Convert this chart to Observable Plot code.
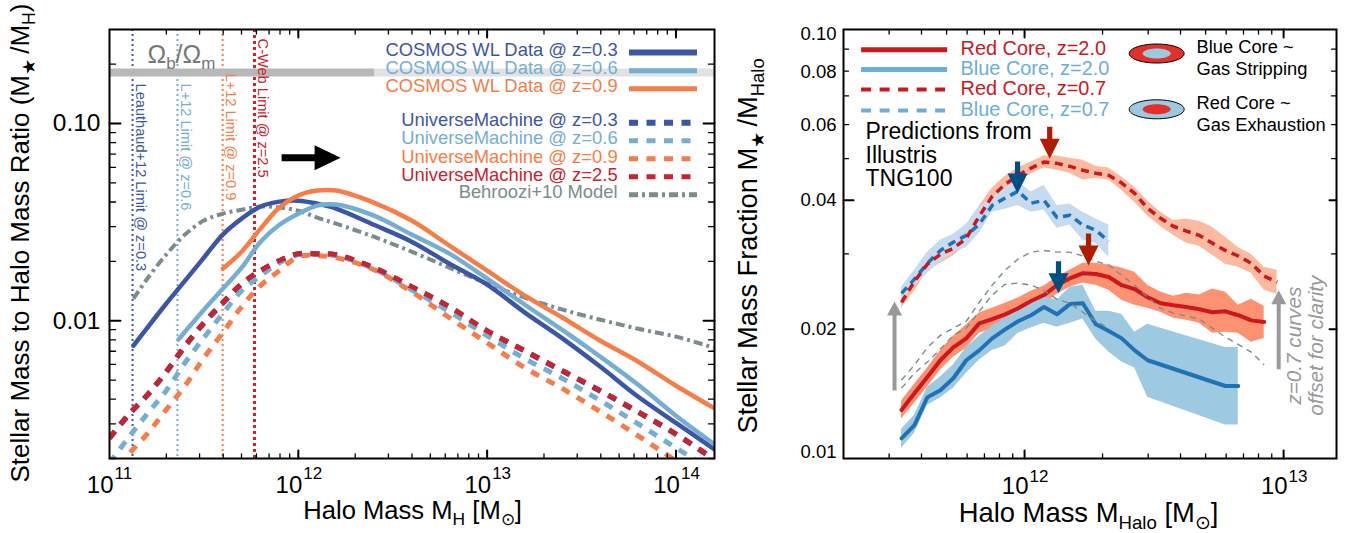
<!DOCTYPE html>
<html><head><meta charset="utf-8">
<style>html,body{margin:0;padding:0;background:#fff}#row{display:flex;width:1350px;height:533px}svg{flex:none;max-width:none!important}</style>
<script src="https://cdn.jsdelivr.net/npm/d3@7"></script>
<script src="https://cdn.jsdelivr.net/npm/@observablehq/plot@0.6"></script>
</head><body><div id="row"></div>
<script>
// ---------- LEFT PANEL DATA (log10 halo mass, log10 ratio) ----------
const gridL = [11,11.1,11.2,11.3,11.4,11.5,11.6,11.7,11.8,11.9,12,12.1,12.2,12.4,12.6,12.8,13,13.2,13.4,13.6,13.8,14,14.2];
const um25 = [-2.594,-2.477,-2.376,-2.259,-2.127,-2.010,-1.909,-1.812,-1.746,-1.695,-1.660,-1.660,-1.665,-1.731,-1.827,-1.929,-2.051,-2.152,-2.254,-2.355,-2.462,-2.574,-2.701];
const um03 = [-2.596,-2.479,-2.378,-2.261,-2.129,-2.012,-1.911,-1.814,-1.748,-1.697,-1.662,-1.662,-1.667,-1.733,-1.829,-1.931,-2.053,-2.154,-2.256,-2.357,-2.464,-2.576,-2.703];
const um06 = [-2.721,-2.594,-2.472,-2.355,-2.213,-2.086,-1.964,-1.848,-1.772,-1.706,-1.665,-1.660,-1.670,-1.736,-1.843,-1.954,-2.076,-2.193,-2.294,-2.406,-2.523,-2.645,-2.761];
const um09 = [-2.812,-2.680,-2.574,-2.452,-2.330,-2.188,-2.061,-1.929,-1.822,-1.746,-1.675,-1.670,-1.680,-1.741,-1.853,-1.985,-2.112,-2.239,-2.345,-2.462,-2.584,-2.711,-2.838];
const wlX03 = [11.127,11.2,11.3,11.4,11.5,11.6,11.7,11.8,11.9,12,12.1,12.2,12.4,12.6,12.8,13,13.2,13.4,13.6,13.8,14,14.2];
const wl03 = [-2.127,-2.036,-1.914,-1.797,-1.680,-1.563,-1.482,-1.421,-1.396,-1.391,-1.406,-1.431,-1.513,-1.599,-1.711,-1.817,-1.959,-2.091,-2.234,-2.386,-2.518,-2.650];
const wlX06 = [11.365,11.4,11.5,11.6,11.7,11.8,11.9,12,12.1,12.2,12.4,12.6,12.8,13,13.2,13.4,13.6,13.8,14,14.2];
const wl06 = [-2.096,-2.056,-1.944,-1.838,-1.731,-1.599,-1.513,-1.457,-1.416,-1.411,-1.467,-1.563,-1.660,-1.787,-1.919,-2.048,-2.183,-2.325,-2.482,-2.624];
const wlX09 = [11.6,11.7,11.8,11.9,12,12.1,12.2,12.4,12.6,12.8,13,13.2,13.4,13.6,13.8,14,14.2];
const wl09 = [-1.736,-1.650,-1.533,-1.426,-1.365,-1.340,-1.340,-1.401,-1.492,-1.619,-1.746,-1.873,-1.985,-2.102,-2.208,-2.330,-2.442];
const behrX = [11.127,11.2,11.3,11.4,11.5,11.6,11.7,11.8,11.9,12,12.1,12.2,12.4,12.6,12.8,13,13.2,13.4,13.6,13.8,14,14.2];
const behr = [-1.888,-1.787,-1.665,-1.563,-1.492,-1.457,-1.437,-1.421,-1.426,-1.442,-1.477,-1.508,-1.574,-1.650,-1.731,-1.812,-1.883,-1.944,-1.995,-2.041,-2.081,-2.137];
const limitX = [11.122,11.360,11.599,11.768];
const limitLabels = ["Leauthaud+12 Limit @ z=0.3","L+12 Limit @ z=0.6","L+12 Limit @ z=0.9","C-Web Limit @ z=2.5"];
const limitTop = [-0.797,-0.797,-0.746,-0.569];
const baryon = 0.1815, baryonSplit = 12.406;
const legendL = ["COSMOS WL Data @ z=0.3","COSMOS WL Data @ z=0.6","COSMOS WL Data @ z=0.9","UniverseMachine @ z=0.3","UniverseMachine @ z=0.6","UniverseMachine @ z=0.9","UniverseMachine @ z=2.5","Behroozi+10 Model"];
const legendLY = [-0.629,-0.721,-0.812,-0.985,-1.076,-1.168,-1.259,-1.350];
const C = {navy:"#3c56a6",sky:"#74aed3",orange:"#f67d47",red:"#c8232e",slate:"#7a8c8c"};
const legendLColor = [C.navy,C.sky,C.orange,C.navy,C.sky,C.orange,C.red,C.slate];

// ---------- RIGHT PANEL DATA (log10 halo mass, log10 fraction) ----------
const gridR = [11.525,11.575,11.625,11.675,11.725,11.775,11.825,11.875,11.925,11.975,12.025,12.075,12.125,12.175,12.225,12.275,12.325,12.375,12.425,12.475,12.525,12.575,12.625,12.675,12.725,12.775,12.825,12.875,12.925,12.975];
const red20 = [-1.887,-1.848,-1.810,-1.771,-1.741,-1.720,-1.685,-1.675,-1.664,-1.650,-1.633,-1.619,-1.596,-1.580,-1.568,-1.570,-1.577,-1.596,-1.605,-1.624,-1.638,-1.643,-1.647,-1.652,-1.659,-1.657,-1.666,-1.678,-1.682];
const red20hi = [-1.866,-1.827,-1.789,-1.748,-1.715,-1.689,-1.661,-1.650,-1.638,-1.626,-1.610,-1.598,-1.577,-1.561,-1.545,-1.545,-1.549,-1.556,-1.566,-1.596,-1.612,-1.622,-1.615,-1.619,-1.605,-1.612,-1.643,-1.629,-1.645];
const red20lo = [-1.908,-1.871,-1.834,-1.794,-1.764,-1.743,-1.708,-1.699,-1.685,-1.671,-1.654,-1.640,-1.617,-1.601,-1.591,-1.596,-1.608,-1.631,-1.643,-1.650,-1.659,-1.673,-1.678,-1.685,-1.708,-1.706,-1.708,-1.729,-1.720];
const blueX20 = [...gridR.slice(0,20),12.775,12.825];
const blue20 = [-1.953,-1.922,-1.857,-1.841,-1.813,-1.771,-1.748,-1.720,-1.699,-1.680,-1.666,-1.647,-1.664,-1.640,-1.638,-1.687,-1.703,-1.720,-1.748,-1.771,-1.831,-1.831];
const blue20hi = [-1.932,-1.899,-1.834,-1.810,-1.782,-1.741,-1.715,-1.692,-1.673,-1.657,-1.640,-1.622,-1.631,-1.601,-1.596,-1.657,-1.657,-1.664,-1.706,-1.687,-1.741,-1.741];
const blue20lo = [-1.976,-1.941,-1.876,-1.859,-1.836,-1.801,-1.771,-1.748,-1.738,-1.708,-1.696,-1.685,-1.694,-1.685,-1.675,-1.722,-1.752,-1.775,-1.789,-1.857,-1.922,-1.922];
const red07 = [-1.636,-1.587,-1.547,-1.524,-1.510,-1.487,-1.435,-1.389,-1.361,-1.340,-1.323,-1.309,-1.312,-1.319,-1.328,-1.335,-1.340,-1.358,-1.382,-1.417,-1.440,-1.459,-1.470,-1.480,-1.498,-1.515,-1.528,-1.545,-1.575,-1.589];
const red07hi = [-1.624,-1.575,-1.524,-1.496,-1.480,-1.456,-1.412,-1.370,-1.342,-1.323,-1.309,-1.295,-1.295,-1.300,-1.305,-1.319,-1.323,-1.344,-1.368,-1.400,-1.426,-1.445,-1.442,-1.447,-1.461,-1.484,-1.508,-1.524,-1.554,-1.561];
const red07lo = [-1.650,-1.610,-1.563,-1.545,-1.528,-1.503,-1.456,-1.405,-1.377,-1.356,-1.337,-1.323,-1.328,-1.335,-1.351,-1.347,-1.351,-1.375,-1.403,-1.435,-1.459,-1.480,-1.498,-1.505,-1.526,-1.547,-1.554,-1.568,-1.608,-1.617];
const blue07 = [-1.615,-1.582,-1.545,-1.515,-1.496,-1.480,-1.454,-1.410,-1.393,-1.377,-1.405,-1.398,-1.438,-1.433,-1.456,-1.468,-1.494];
const blue07hi = [-1.601,-1.561,-1.519,-1.491,-1.477,-1.454,-1.414,-1.393,-1.368,-1.354,-1.379,-1.363,-1.410,-1.407,-1.426,-1.442,-1.456];
const blue07lo = [-1.631,-1.598,-1.568,-1.542,-1.521,-1.508,-1.475,-1.426,-1.419,-1.410,-1.426,-1.421,-1.463,-1.456,-1.491,-1.498,-1.531];
const raw07red = [-1.817,-1.782,-1.741,-1.713,-1.696,-1.680,-1.636,-1.596,-1.561,-1.535,-1.519,-1.515,-1.519,-1.519,-1.528,-1.540,-1.549,-1.573,-1.596,-1.624,-1.650,-1.661,-1.668,-1.675,-1.696,-1.717,-1.734,-1.752,-1.782];
const raw07blue = [-1.836,-1.801,-1.775,-1.745,-1.713,-1.696,-1.657,-1.619,-1.594,-1.591,-1.596,-1.608,-1.629,-1.638,-1.659,-1.680,-1.696];
const legendR = ["Red Core, z=2.0","Blue Core, z=2.0","Red Core, z=0.7","Blue Core, z=0.7"];
const legendRY = [-1.047,-1.093,-1.140,-1.189];
const CR = {red:"#cb181d",sky:"#6baed6",blue:"#2171b5",band1:"#fc9272",band2:"#9ecae1",band3:"#fcbba1",band4:"#c6dbef",darkRed:"#b01c00",darkBlue:"#004f84",grey:"#999999"};
const predLines = ["Predictions from","Illustris","TNG100"];
const predY = [-1.238,-1.294,-1.347];
const coreNotes = ["Blue Core ~","Gas Stripping","Red Core ~","Gas Exhaustion"];
const coreNoteY = [-1.042,-1.093,-1.172,-1.224];
const coreY = [-1.056,-1.186];
const peakArrows = [
  {x:12.097,y:-1.301,c:CR.darkRed},{x:11.973,y:-1.382,c:CR.darkBlue},
  {x:12.247,y:-1.550,c:CR.darkRed},{x:12.131,y:-1.615,c:CR.darkBlue}];

// ---------- HELPERS ----------
const FONT = "'Liberation Sans',Arial,Helvetica,sans-serif";
const rows = (xs,ys) => ys.map((y,i)=>({x:10**xs[i],y:10**y}));
const band = (xs,hi,lo) => hi.map((h,i)=>({x:10**xs[i],y1:10**h,y2:10**lo[i]}));
const tickShape = {draw(ctx,l){ctx.moveTo(0,0);ctx.lineTo(0,-l);}};
function ticks(axis,anchor,values,length,strokeWidth){
  const rotate = {bottom:0,top:180,left:90,right:-90}[anchor];
  return Plot.vector(values,{[axis]:d=>d,frameAnchor:anchor,shape:tickShape,length,anchor:"start",rotate,stroke:"#000",strokeWidth});
}
function richRender(i,s,v,d,c,next){
  const g = next(i,s,v,d,c);
  d3.select(g).selectAll("text").each(function(){
    const t = d3.select(this), src = t.text(), fs = parseFloat(g.getAttribute("font-size")) || 20;
    const parts = src.split(/(_\{[^}]*\})/).filter(Boolean);
    t.text(null);
    let down = false;
    parts.forEach(p=>{
      const sub = p.startsWith("_{");
      const ts = t.append("tspan").text(sub?p.slice(2,-1):p);
      if(sub){ts.attr("font-size",fs*0.68).attr("dy",fs*0.26);down=true;}
      else if(down){ts.attr("dy",-fs*0.26);down=false;}
    });
  });
  return g;
}
function arrowSym(len,halfShaft,headLen,halfHead){
  return {draw(ctx){ctx.moveTo(0,0);ctx.lineTo(halfHead,-headLen);ctx.lineTo(halfShaft,-headLen);ctx.lineTo(halfShaft,-len);ctx.lineTo(-halfShaft,-len);ctx.lineTo(-halfShaft,-headLen);ctx.lineTo(-halfHead,-headLen);ctx.closePath();}};
}
function ellipseSym(rx,ry){
  const k=0.5523;
  return {draw(ctx){ctx.moveTo(-rx,0);ctx.bezierCurveTo(-rx,-k*ry,-k*rx,-ry,0,-ry);ctx.bezierCurveTo(k*rx,-ry,rx,-k*ry,rx,0);ctx.bezierCurveTo(rx,k*ry,k*rx,ry,0,ry);ctx.bezierCurveTo(-k*rx,ry,-rx,k*ry,-rx,0);ctx.closePath();}};
}
function decadeMinors(lo,hi,mults){const out=[];for(let e=lo;e<=hi;e++)for(const m of mults)out.push(m*10**e);return out;}
const sup = (vals,size1,size2,dy1,dy2) => [
  Plot.text(vals,{x:d=>d.v,frameAnchor:"bottom",text:()=>"10",textAnchor:"end",dx:4,dy:dy1,fontSize:size1,lineAnchor:"bottom",fill:"#000"}),
  Plot.text(vals,{x:d=>d.v,frameAnchor:"bottom",text:d=>String(d.e),textAnchor:"start",dx:5,dy:dy2,fontSize:size2,lineAnchor:"bottom",fill:"#000"})
];

// ---------- LEFT PLOT ----------
const ln = (xs,ys,stroke,sw,extra={}) => Plot.line(rows(xs,ys),{x:"x",y:"y",stroke,strokeWidth:sw,clip:true,strokeLinejoin:"round",curve:"catmull-rom",...extra});
const dash = {strokeDasharray:"9 8.5",strokeLinejoin:"miter",strokeLinecap:"butt"};
const dashDot = {strokeDasharray:"9 4 3 4",strokeLinecap:"butt"};
const left = Plot.plot({
  width:730,height:533,marginLeft:109,marginRight:16,marginTop:29,marginBottom:75,
  style:{fontFamily:FONT,background:"#fff"},
  x:{type:"log",domain:[1e11,1.6e14],axis:null},
  y:{type:"log",domain:[0.002,0.3],axis:null},
  marks:[
    ...limitX.map((x,i)=>Plot.ruleX([10**x],{stroke:[C.navy,C.sky,C.orange,C.red][i],strokeWidth:i===3?3:2,strokeDasharray:i===3?"3 3":"2 3"})),
    Plot.ruleY([baryon],{x1:1e11,x2:10**baryonSplit,stroke:"#b8b8b8",strokeWidth:8}),
    Plot.ruleY([baryon],{x1:10**baryonSplit,x2:1.6e14,stroke:"#e2e2e2",strokeWidth:8}),
    ...limitX.map((x,i)=>Plot.text([limitLabels[i]],{x:10**x,y:10**limitTop[i],dx:8,rotate:90,textAnchor:"start",fontSize:14.6,fill:[C.navy,C.sky,C.orange,C.red][i]})),
    Plot.text(["Ω_{b}/Ω_{m}"],{x:10**11.201,y:10**-0.65,textAnchor:"start",fontSize:25,fill:"#777",render:richRender}),
    ln(behrX,behr,C.slate,4,dashDot),
    ln(gridL,um09,C.orange,5,dash),
    ln(gridL,um03,C.navy,5.5,dash),
    ln(gridL,um06,C.sky,5,dash),
    ln(gridL,um25,C.red,5,dash),
    ln(wlX03,wl03,C.navy,4.5),
    ln(wlX06,wl06,C.sky,4.5),
    ln(wlX09,wl09,C.orange,4.5),
    Plot.dot([{x:10**12.224,y:10**-1.173}],{x:"x",y:"y",r:5,symbol:arrowSym(59,3.5,26,12.5),rotate:-90,fill:"#000",stroke:"none"}),
    Plot.text(legendL,{x:()=>10**13.691,y:(d,i)=>10**legendLY[i],text:d=>d,fill:(d,i)=>legendLColor[i],textAnchor:"end",fontSize:18.4}),
    ...legendL.map((d,i)=>Plot.ruleY([10**(legendLY[i]-0.011)],{x1:10**13.754,x2:10**14.114,stroke:legendLColor[i],
       strokeWidth:i===0||i===3?6:5,...(i>=3&&i<7?dash:i===7?dashDot:{})})),
    Plot.frame({stroke:"#000",strokeWidth:2}),
    ticks("x","bottom",[1e12,1e13,1e14],8,2), ticks("x","top",[1e12,1e13,1e14],8,2),
    ticks("x","bottom",decadeMinors(11,13,[2,3,4,5,6,7,8,9]),4.5,1.3), ticks("x","top",decadeMinors(11,13,[2,3,4,5,6,7,8,9]),4.5,1.3),
    ticks("y","left",[0.01,0.1],11,2), ticks("y","right",[0.01,0.1],11,2),
    ticks("y","left",decadeMinors(-3,-1,[2,3,4,5,6,7,8,9]).filter(v=>v<0.3),6,1.3), ticks("y","right",decadeMinors(-3,-1,[2,3,4,5,6,7,8,9]).filter(v=>v<0.3),6,1.3),
    ...sup([{v:1e11,e:11},{v:1e12,e:12},{v:1e13,e:13},{v:1e14,e:14}],24,17,34,20),
    Plot.text(["0.10","0.01"],{y:d=>+d,frameAnchor:"left",text:d=>d,dx:-9,textAnchor:"end",fontSize:24.5,fill:"#000"}),
    Plot.text(["Halo Mass M_{H} [M_{⊙}]"],{x:10**12.605,frameAnchor:"bottom",dy:60,fontSize:25.6,textAnchor:"middle",lineAnchor:"bottom",render:richRender}),
    Plot.text(["Stellar Mass to Halo Mass Ratio (M_{★}\u2009/M_{H})"],{frameAnchor:"bottom-left",dx:-81,dy:24,rotate:-90,textAnchor:"start",fontSize:26,render:richRender})
  ]
});

// ---------- RIGHT PLOT ----------
const area = (xs,hi,lo,fill) => Plot.areaY(band(xs,hi,lo),{x:"x",y1:"y1",y2:"y2",fill,curve:"linear"});
const dashR = {strokeDasharray:"8 5.5",strokeLinecap:"butt"};
const thin = {strokeDasharray:"6 5",strokeLinecap:"butt"};
const right = Plot.plot({
  width:620,height:533,marginLeft:113,marginRight:14,marginTop:29,marginBottom:75,
  style:{fontFamily:FONT,background:"#fff"},
  x:{type:"log",domain:[2e11,1.6e13],axis:null},
  y:{type:"log",domain:[0.01,0.1],axis:null},
  marks:[
    area(gridR,red07hi,red07lo,CR.band3),
    area(gridR,blue07hi,blue07lo,CR.band4),
    Plot.line(rows(gridR,blue07),{x:"x",y:"y",stroke:CR.blue,strokeWidth:3.5,...dashR}),
    Plot.line(rows(gridR,red07),{x:"x",y:"y",stroke:CR.red,strokeWidth:3.5,...dashR}),
    area(gridR,red20hi,red20lo,CR.band1),
    area(blueX20,blue20hi,blue20lo,CR.band2),
    Plot.line(rows(gridR,red20),{x:"x",y:"y",stroke:CR.red,strokeWidth:4}),
    Plot.line(rows(blueX20,blue20),{x:"x",y:"y",stroke:CR.blue,strokeWidth:4}),
    Plot.line(rows(gridR,raw07red),{x:"x",y:"y",stroke:C.slate,strokeWidth:1.4,...thin}),
    Plot.line(rows(gridR,raw07blue),{x:"x",y:"y",stroke:C.slate,strokeWidth:1.4,...thin}),
    Plot.dot(peakArrows.map(d=>({...d,x:10**d.x,y:10**d.y})),{x:"x",y:"y",r:5,symbol:arrowSym(32,2.6,20,10),fill:"c",stroke:"none"}),
    Plot.dot([{x:10**11.498,y:10**-1.634}],{x:"x",y:"y",r:5,symbol:arrowSym(89,2,14,7.5),rotate:180,fill:CR.grey,stroke:"none"}),
    Plot.dot([{x:10**12.981,y:10**-1.608}],{x:"x",y:"y",r:5,symbol:arrowSym(79,2,14,7.5),rotate:180,fill:CR.grey,stroke:"none"}),
    ...legendR.map((d,i)=>Plot.ruleY([10**legendRY[i]],{x1:10**11.371,x2:10**11.703,stroke:i%2?CR.sky:CR.red,strokeWidth:i<2?5:4,...(i<2?{}:{strokeDasharray:"10 8.5"})})),
    Plot.text(legendR,{x:()=>10**11.753,y:(d,i)=>10**legendRY[i],dy:-1,text:d=>d,fill:(d,i)=>i%2?CR.sky:CR.red,textAnchor:"start",fontSize:19.9}),
    Plot.text(predLines,{x:()=>10**11.386,y:(d,i)=>10**predY[i],text:d=>d,textAnchor:"start",fontSize:23,fill:"#000"}),
    Plot.dot([10**coreY[0]],{x:()=>10**12.510,y:d=>d,r:5,symbol:ellipseSym(27.5,9.5),fill:"#e2302a",stroke:"#000",strokeWidth:1}),
    Plot.dot([10**coreY[0]],{x:()=>10**12.510,y:d=>d,r:5,symbol:ellipseSym(14,5),fill:"#9cc8e0",stroke:"none"}),
    Plot.dot([10**coreY[1]],{x:()=>10**12.510,y:d=>d,r:5,symbol:ellipseSym(27.5,9.5),fill:"#9cc8e0",stroke:"#000",strokeWidth:1}),
    Plot.dot([10**coreY[1]],{x:()=>10**12.510,y:d=>d,r:5,symbol:ellipseSym(14,5),fill:"#e2302a",stroke:"none"}),
    Plot.text(coreNotes,{x:()=>10**12.664,y:(d,i)=>10**coreNoteY[i],text:d=>d,textAnchor:"start",fontSize:18.3,fill:"#000"}),
    Plot.text(["z=0.7 curves"],{x:10**13.042,y:10**-1.737,rotate:-90,fontSize:20.7,fontStyle:"italic",fill:CR.grey}),
    Plot.text(["offset for clarity"],{x:10**13.127,y:10**-1.737,rotate:-90,fontSize:20.7,fontStyle:"italic",fill:CR.grey}),
    Plot.frame({stroke:"#000",strokeWidth:2}),
    ticks("x","bottom",[1e12,1e13],8,2), ticks("x","top",[1e12,1e13],8,2),
    ticks("x","bottom",[...decadeMinors(11,11,[3,4,5,6,7,8,9]),...decadeMinors(12,12,[2,3,4,5,6,7,8,9])],4.5,1.3),
    ticks("x","top",[...decadeMinors(11,11,[3,4,5,6,7,8,9]),...decadeMinors(12,12,[2,3,4,5,6,7,8,9])],4.5,1.3),
    ticks("y","left",[0.02,0.04],10,2), ticks("y","right",[0.02,0.04],7,2),
    ticks("y","left",[0.03,0.05,0.06,0.07,0.08,0.09],5,1.3), ticks("y","right",[0.03,0.05,0.06,0.07,0.08,0.09],5,1.3),
    ...sup([{v:1e12,e:12},{v:1e13,e:13}],24,17,35,23),
    Plot.text(["0.10"],{y:()=>0.1,frameAnchor:"left",text:d=>d,dx:-7,dy:5,textAnchor:"end",fontSize:18.5,fill:"#000"}),
    Plot.text(["0.08"],{y:d=>+d,frameAnchor:"left",text:d=>d,dx:-7,dy:1,textAnchor:"end",fontSize:18.5,fill:"#000"}),
    Plot.text(["0.06","0.04","0.02"],{y:d=>+d,frameAnchor:"left",text:d=>d,dx:-7,textAnchor:"end",fontSize:18.5,fill:"#000"}),
    Plot.text(["0.01"],{y:()=>0.01,frameAnchor:"left",text:d=>d,dx:-7,dy:-6,textAnchor:"end",fontSize:18.5,fill:"#000"}),
    Plot.text(["Halo Mass M_{Halo} [M_{⊙}]"],{x:10**12.247,frameAnchor:"bottom",dy:63,fontSize:27.4,textAnchor:"middle",lineAnchor:"bottom",render:richRender}),
    Plot.text(["Stellar Mass Fraction M_{★}\u2009/M_{Halo}"],{frameAnchor:"bottom-left",dx:-87,dy:-25,rotate:-90,textAnchor:"start",fontSize:27.2,render:richRender})
  ]
});
const row = document.getElementById("row");
row.appendChild(left); row.appendChild(right);
</script></body></html>
